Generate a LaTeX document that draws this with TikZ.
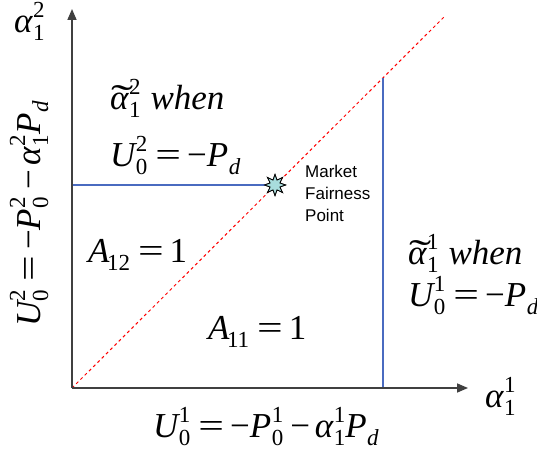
\documentclass[tikz,border=0pt]{standalone}
\usepackage{fontspec}
\setmainfont{Liberation Serif}
\newfontfamily\labsans{Liberation Sans}
\usetikzlibrary{arrows.meta,shapes.geometric}
% scripts: #1 = subscript, #2 = superscript
\newcommand\ssc[2]{\begingroup\fontsize{23}{23}\selectfont\upshape
  \setbox0\hbox{#1}\setbox2\hbox{#2}%
  \dimen0=\ifdim\wd0>\wd2 \wd0\else\wd2\fi
  \kern0.5pt\rlap{\raisebox{-8pt}{\box0}}\rlap{\raisebox{15pt}{\box2}}\kern\dimen0\endgroup}
\newcommand\alp{{\itshape\char"03B1}}
\newcommand\talp{\rlap{\hspace{1.5pt}\raisebox{-2pt}{\scalebox{1.9}[1.1]{\upshape\char"02DC}}}\alp}
\newcommand\eqs{\hspace{8pt}\scalebox{1.3}[1]{\upshape=}\hspace{6pt}}
\newcommand\mns{{\upshape\char"2212}}
\newcommand\mnb{\hspace{7pt}{\upshape\char"2212}\hspace{5pt}}
\definecolor{lineblue}{HTML}{4A6BC0}
\definecolor{axisgray}{HTML}{404040}
\definecolor{starfill}{HTML}{A8DCDC}
\tikzset{
  axisline/.style={draw=axisgray,line width=1.6pt,-{Triangle[length=11pt,width=9pt]}},
  bluel/.style={draw=lineblue,line width=1.2pt},
  reddash/.style={draw=red,line width=1pt,dash pattern=on 3pt off 3pt},
  mlab/.style={inner sep=0pt,font=\fontsize{35}{40}\selectfont\itshape},
  slab/.style={inner sep=0pt,font=\labsans\fontsize{17}{22}\selectfont,align=left},
  burst/.style={star,star points=8,star point ratio=2.0,minimum size=21pt,inner sep=0pt,draw=black,fill=starfill,line width=0.8pt}
}
\begin{document}
\begin{tikzpicture}[x=1pt,y=1pt]
\useasboundingbox (0,0) rectangle (537,452);
\coordinate (O) at (72,64);
\coordinate (xend) at (468,64);
\coordinate (yend) at (72,443);
\coordinate (rtop) at (445,436);
\coordinate (vtop) at (383,374);
\coordinate (vbot) at (383,64);
\coordinate (hleft) at (72,267);
\node[burst] (mfp) at (275,267) {};
% lines
\draw[reddash] (O) -- (rtop);
\draw[bluel] (hleft) -- (mfp.center);
\draw[bluel] (vbot) -- (vtop);
\draw[axisline] (O) -- (xend);
\draw[axisline] (O) -- (yend);
\node[burst] at (mfp.center) {};
% labels
\node[mlab,anchor=base west] (ya) at (14,419) {\alp\ssc{1}{2}};
\node[mlab,anchor=base west] (xa) at (485,45) {\alp\ssc{1}{1}};
\node[mlab,anchor=base west] (t2) at (110,342) {\talp\ssc{1}{2}\hspace{10pt}when};
\node[mlab,anchor=base west] (u2) at (110,285) {U\ssc{0}{2}\eqs\mns P\ssc{\itshape d}{}};
\node[mlab,anchor=base west] (a12) at (88,189) {A\kern-3pt\ssc{12}{}\eqs{\upshape 1}};
\node[mlab,anchor=base west] (a11) at (208,112) {A\kern-3pt\ssc{11}{}\eqs{\upshape 1}};
\node[mlab,anchor=base west] (t1) at (408,187) {\talp\ssc{1}{1}\hspace{10pt}when};
\node[mlab,anchor=base west] (u1) at (408,145) {U\ssc{0}{1}\eqs\mns P\ssc{\itshape d}{}};
\node[mlab,anchor=base west] (bx) at (153,15) {U\ssc{0}{1}\eqs\mns P\ssc{0}{1}\mnb\alp\ssc{1}{1}P\ssc{\itshape d}{}};
\node[mlab,anchor=base west,rotate=90] (ly) at (40,125) {U\ssc{0}{2}\eqs\mns P\ssc{0}{2}\mnb\alp\ssc{1}{2}P\ssc{\itshape d}{}};
\node[slab,anchor=base west] (mtext) at (305,230) {Market\\Fairness\\Point};
\end{tikzpicture}
\end{document}
